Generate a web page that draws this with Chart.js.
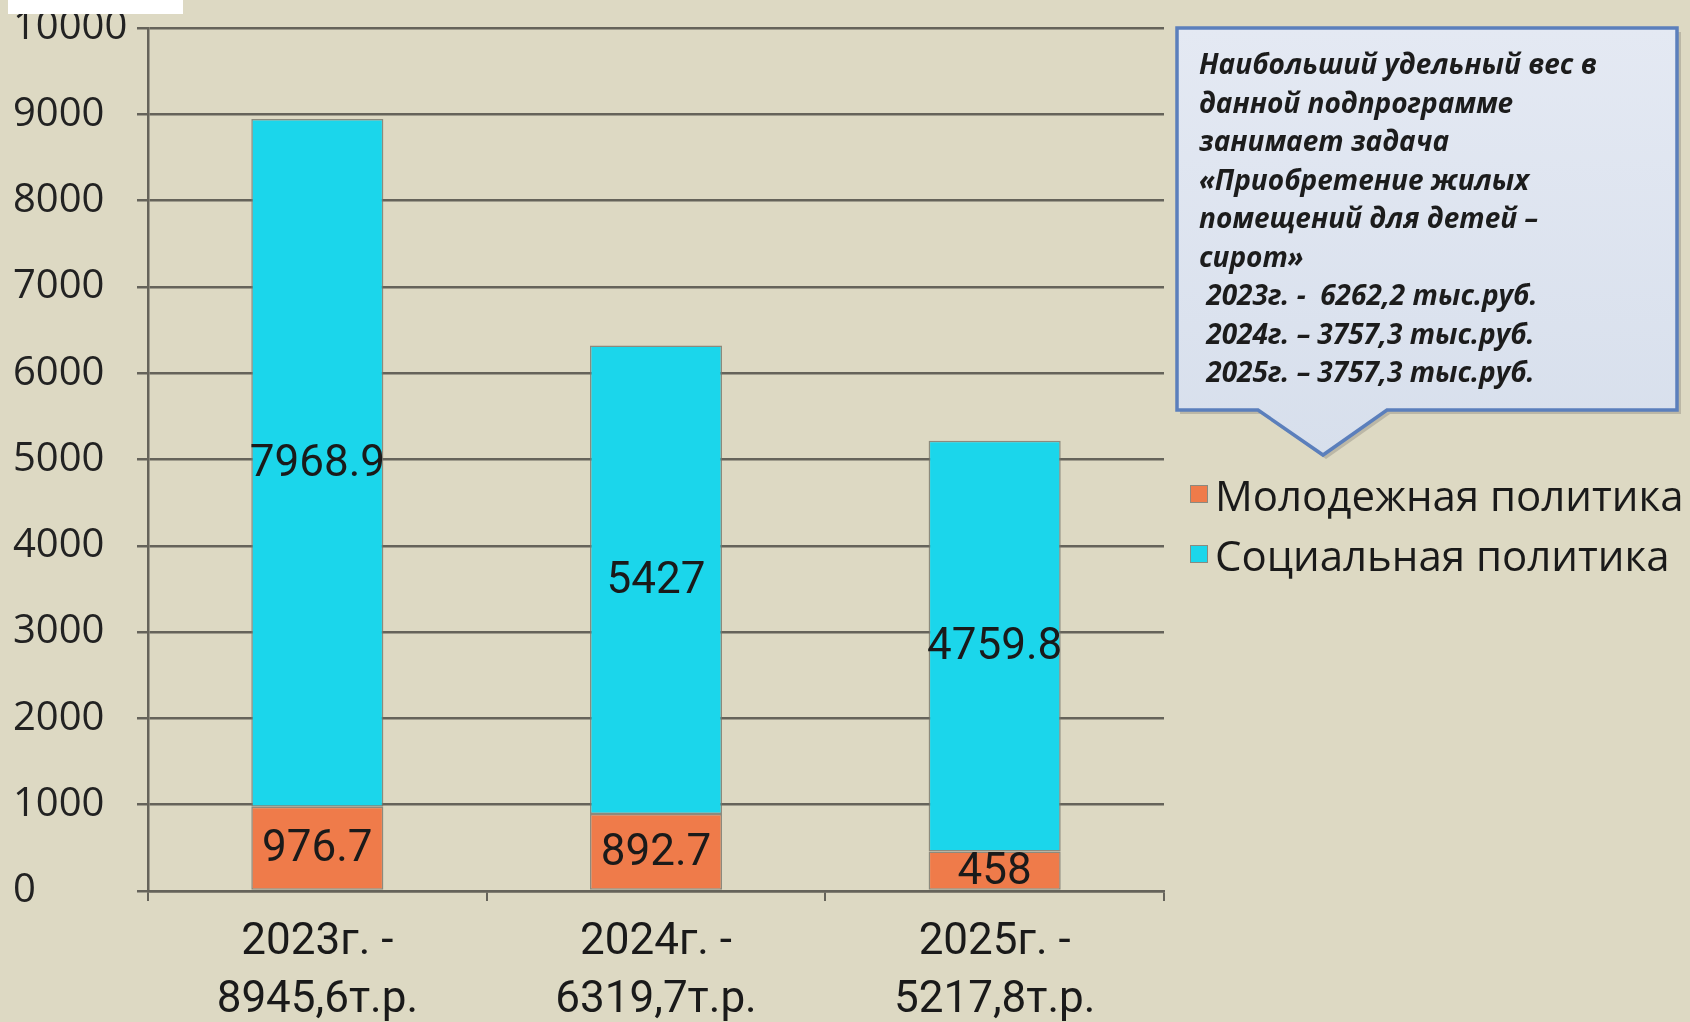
<!DOCTYPE html>
<html lang="ru">
<head>
<meta charset="utf-8">
<title>Подпрограмма</title>
<script src="https://cdn.jsdelivr.net/npm/chart.js@4.4.1/dist/chart.umd.min.js"></script>
<style>
  body { margin: 0; background: #ddd9c3; overflow: hidden; }
  #wrap { position: relative; width: 1690px; height: 1022px; }
  #chart { position: absolute; left: 0; top: 0; }
  #stub { position: absolute; left: 8px; top: 0; width: 175px; height: 14px; background: #fff; }
  #callout { position: absolute; left: 0; top: 0; }
  #note {
    position: absolute; left: 1199px; top: 44px; width: 475px;
    font-family: "Open Sans", "DejaVu Sans", sans-serif; font-weight: bold; font-style: italic;
    font-size: 28px; line-height: 38.5px; color: #1c1c1c; white-space: pre;
  }
  #legend { position: absolute; left: 1190px; top: 464px; font-family: "Open Sans", sans-serif; font-size: 42px; color: #1a1a1a; }
  #legend div { display: flex; align-items: center; height: 60px; }
  #legend span.box { width: 18px; height: 18px; margin-right: 7px; border: 1px solid #8a8a80; box-sizing: border-box; }
</style>
</head>
<body>
<div id="wrap">
  <canvas id="chart" width="1690" height="1022"></canvas>
  <div id="stub"></div>
  <svg id="callout" width="1690" height="1022">
    <defs>
      <linearGradient id="fillg" x1="0" y1="0" x2="0" y2="1">
        <stop offset="0" stop-color="#e4e9f3"/>
        <stop offset="1" stop-color="#d7dfec"/>
      </linearGradient>
    </defs>
    <path d="M1180 32 H1681 V414 H1390 L1326 459 L1261 414 H1180 Z" fill="#9a968a" opacity="0.5"/>
    <path d="M1177 28 H1677 V410 H1387 L1323 455 L1258 410 H1177 Z" fill="url(#fillg)" stroke="#5b7fbc" stroke-width="3.5"/>
  </svg>
  <div id="note">Наибольший удельный вес в
данной подпрограмме
занимает задача
«Приобретение жилых
помещений для детей –
сирот»
 2023г. -  6262,2 тыс.руб.
 2024г. – 3757,3 тыс.руб.
 2025г. – 3757,3 тыс.руб.</div>
  <div id="legend"></div>
</div>
<script>
// categories (two-line labels) and series values
const categories = [
    ['2023г. -', '8945,6т.р.'],
    ['2024г. -', '6319,7т.р.'],
    ['2025г. -', '5217,8т.р.']
];
const youthPolicy = [976.7, 892.7, 458];
const socialPolicy = [7968.9, 5427, 4759.8];
const seriesNames = ['Молодежная политика', 'Социальная политика'];
const seriesColors = ['#ef7b4a', '#1bd6eb'];

// values drawn in the middle of each segment
const segmentLabels = {
    id: 'segmentLabels',
    afterDatasetsDraw(chart) {
        const ctx = chart.ctx;
        ctx.save();
        ctx.font = '44px "Roboto", sans-serif';
        ctx.fillStyle = '#1a1a1a';
        ctx.textAlign = 'center';
        ctx.textBaseline = 'middle';
        chart.data.datasets.forEach((ds, i) => {
            chart.getDatasetMeta(i).data.forEach((bar, j) => {
                const p = bar.getProps(['x', 'y', 'base'], true);
                ctx.fillText(String(ds.data[j]), p.x, (p.y + p.base) / 2 + 2);
            });
        });
        ctx.restore();
    }
};

const gridColor = '#65635a';

const chart = new Chart(document.getElementById('chart'), {
    type: 'bar',
    data: {
        labels: categories,
        datasets: [{
            label: seriesNames[0],
            data: youthPolicy,
            backgroundColor: seriesColors[0],
            borderColor: 'rgba(120,118,108,0.8)',
            borderWidth: 1.5,
            borderSkipped: false
        }, {
            label: seriesNames[1],
            data: socialPolicy,
            backgroundColor: seriesColors[1],
            borderColor: 'rgba(120,118,108,0.8)',
            borderWidth: 1.5,
            borderSkipped: false
        }]
    },
    options: {
        responsive: false,
        animation: false,
        layout: { padding: { left: 13, right: 526, top: 28, bottom: 0 } },
        plugins: { legend: { display: false }, tooltip: { enabled: false } },
        datasets: { bar: { categoryPercentage: 1, barPercentage: 0.39 } },
        scales: {
            x: {
                stacked: true,
                grid: { drawOnChartArea: false, drawTicks: true, tickLength: 10, color: gridColor, lineWidth: 2 },
                border: { display: true, color: gridColor, width: 2.5 },
                ticks: {
                    font: { family: '"Roboto", sans-serif', size: 44, lineHeight: 1.32 },
                    color: '#1a1a1a',
                    padding: 13,
                    maxRotation: 0
                },
                afterFit(scale) { scale.height = 131; }
            },
            y: {
                stacked: true,
                min: 0,
                max: 10000,
                grid: { color: gridColor, lineWidth: 2.5, tickLength: 11 },
                border: { display: true, color: gridColor, width: 2.5 },
                ticks: {
                    stepSize: 1000,
                    crossAlign: 'far',
                    font: { family: '"Open Sans", sans-serif', size: 40 },
                    color: '#222',
                    callback: v => String(v)
                },
                afterFit(scale) { scale.width = 135; }
            }
        }
    },
    plugins: [segmentLabels]
});

// legend built from the chart's datasets
const legend = document.getElementById('legend');
chart.data.datasets.forEach(ds => {
    const row = document.createElement('div');
    const box = document.createElement('span');
    box.className = 'box';
    box.style.background = ds.backgroundColor;
    row.appendChild(box);
    row.appendChild(document.createTextNode(ds.label));
    legend.appendChild(row);
});
</script>
</body>
</html>
